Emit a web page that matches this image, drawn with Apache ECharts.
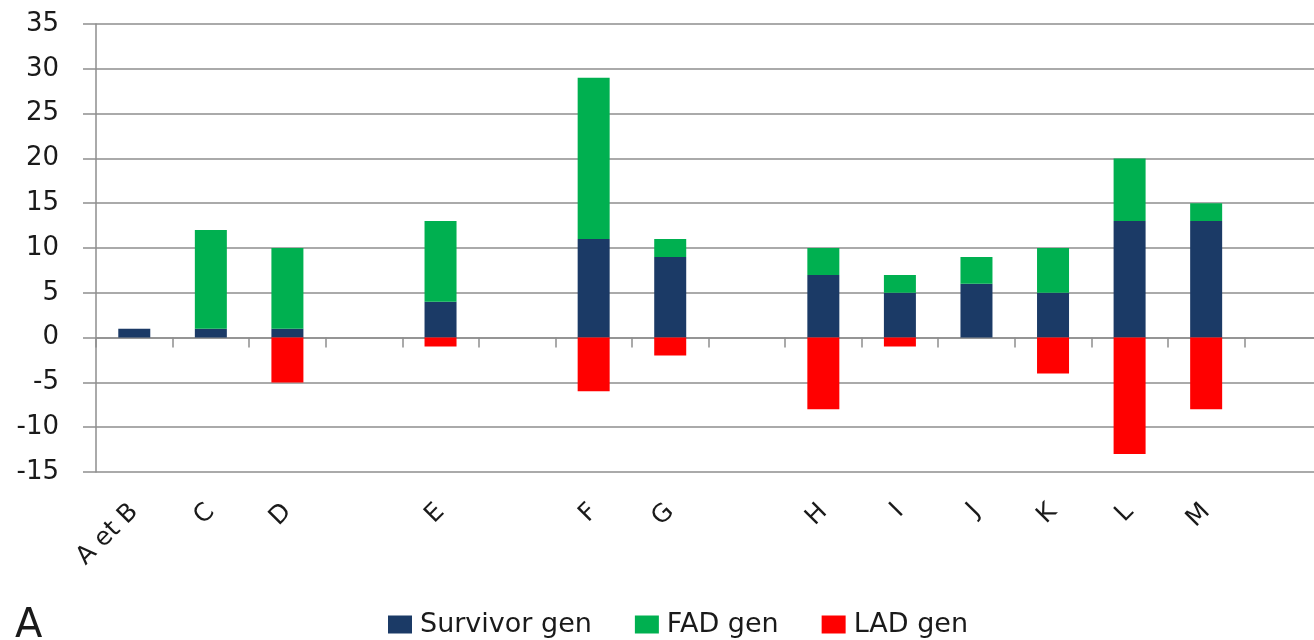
<!DOCTYPE html>
<html>
<head>
<meta charset="utf-8">
<title>Survivor / FAD / LAD genera</title>
<script src="https://cdn.jsdelivr.net/npm/echarts@6/dist/echarts.min.js"></script>
<style>
  html, body { margin: 0; padding: 0; background: #ffffff; }
  #chart { width: 1314px; height: 640px; }
</style>
</head>
<body>
<div id="chart"></div>
<script>
// Intervals along the x axis; empty strings are spacer slots between groups.
const categories = ['A et B', 'C', 'D', '', 'E', '', 'F', 'G', '', 'H', 'I', 'J', 'K', 'L', 'M', ''];

// Genus counts per interval (null where a slot is empty).
const survivorGen = [1, 1, 1, null, 4, null, 11, 9, null, 7, 5, 6, 5, 13, 13, null];
const fadGen      = [0, 11, 9, null, 9, null, 18, 2, null, 3, 2, 3, 5, 7, 2, null];
const ladGen      = [0, 0, -5, null, -1, null, -6, -2, null, -8, -1, 0, -4, -13, -8, null];

// Value axis ticks
const yMin = -15, yMax = 35, yStep = 5;

const seriesNames = ['Survivor gen', 'FAD gen', 'LAD gen'];
const seriesColors = ['#1b3a66', '#00b050', '#ff0000'];

const gridColor = '#8e8e8e';
const font = 'DejaVu Sans';

const chart = echarts.init(document.getElementById('chart'), null, { renderer: 'canvas' });

const mkSeries = (name, data, color) => ({
  name: name,
  type: 'bar',
  stack: 'genera',
  data: data,
  barWidth: 32,
  itemStyle: { color: color },
  emphasis: { disabled: true }
});

chart.setOption({
  animation: false,
  backgroundColor: '#ffffff',
  title: {
    text: 'A',
    left: 10,
    top: 602,
    textStyle: { fontFamily: font, fontSize: 40, fontWeight: 'normal', color: '#1a1a1a' }
  },
  legend: {
    left: 383,
    top: 606,
    itemWidth: 24,
    itemHeight: 18,
    itemGap: 43,
    icon: 'rect',
    data: seriesNames,
    textStyle: { fontFamily: font, fontSize: 27, color: '#1a1a1a', padding: [0, 0, 0, 3] }
  },
  grid: {
    left: 96,
    top: 24,
    width: 1225,
    height: 448,
    containLabel: false,
    outerBoundsMode: 'none'
  },
  xAxis: [
    {
      // bottom axis: category labels only
      type: 'category',
      data: categories,
      position: 'bottom',
      axisLine: { show: false, onZero: false },
      axisTick: { show: false },
      splitLine: { show: false },
      axisLabel: {
        interval: 0,
        rotate: 45,
        margin: 36,
        fontFamily: font,
        fontSize: 25,
        color: '#1a1a1a'
      }
    },
    {
      // zero line with category boundary ticks
      type: 'category',
      data: categories,
      position: 'bottom',
      axisLine: { show: true, onZero: true, lineStyle: { color: gridColor, width: 1.5 } },
      axisTick: { show: true, interval: 0, length: 10, lineStyle: { color: gridColor, width: 1.5 } },
      axisLabel: { show: false },
      splitLine: { show: false }
    }
  ],
  yAxis: {
    type: 'value',
    min: yMin,
    max: yMax,
    interval: yStep,
    axisLine: { show: true, lineStyle: { color: gridColor, width: 1.5 } },
    axisTick: { show: true, length: 13, lineStyle: { color: gridColor, width: 1.5 } },
    splitLine: { show: true, lineStyle: { color: gridColor, width: 1.5 } },
    axisLabel: {
      margin: 37,
      fontFamily: font,
      fontSize: 26,
      color: '#1a1a1a'
    }
  },
  series: [
    mkSeries(seriesNames[0], survivorGen, seriesColors[0]),
    mkSeries(seriesNames[1], fadGen, seriesColors[1]),
    mkSeries(seriesNames[2], ladGen, seriesColors[2])
  ]
});
</script>
</body>
</html>
